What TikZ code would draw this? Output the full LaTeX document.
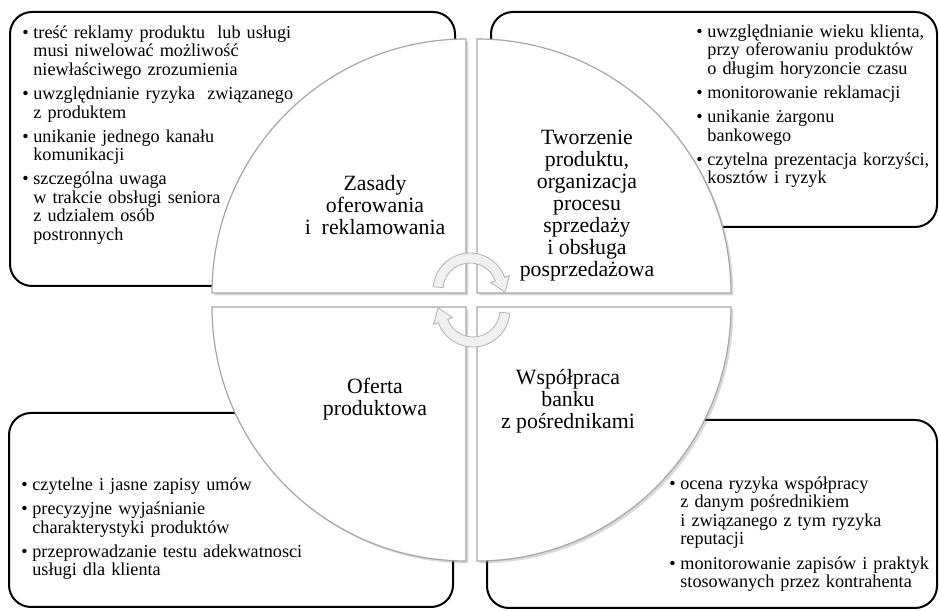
\documentclass[tikz,border=0pt]{standalone}
\usepackage{fontspec}
\setmainfont{Liberation Serif}
\usetikzlibrary{positioning}
\usetikzlibrary{shadows}

\newcommand{\bul}{\par\hangindent=5.5pt\hangafter=1\noindent\makebox[5.5pt][l]{\textbullet}}

\begin{document}
\begin{tikzpicture}
[x=0.5pt, y=0.5pt,
 infobox/.style={draw=black, line width=1pt, rounded corners=11pt},
 quarter/.style={draw=gray!70, fill=white, line width=0.6pt,
   drop shadow={opacity=0.3, shadow xshift=1.2pt, shadow yshift=-1.2pt}},
 turnarrow/.style={draw=gray!60, fill=gray!12, line width=0.4pt},
 listbox/.style={anchor=north west, inner sep=0pt, text width=170pt, align=left,
   font=\fontsize{9.1}{9.25}\selectfont\setlength{\parskip}{2.8pt}},
 areabox/.style={inner sep=0pt, align=center, font=\fontsize{10.9}{11}\selectfont}]

\useasboundingbox (0,0) rectangle (939,611);

% Rounded boxes behind the circle:
\draw[infobox] (10,599)  rectangle (455,325);
\draw[infobox] (491,599) rectangle (937,384);
\draw[infobox] (9,198)   rectangle (453,4);
\draw[infobox] (487,191) rectangle (937,3);

% Quarters of the circle:
\draw[quarter] (466,318) -- ++(-254,0) arc[start angle=180, end angle=90,  radius=254] -- cycle;
\draw[quarter] (477,318) -- ++(0,254)  arc[start angle=90,  end angle=0,   radius=254] -- cycle;
\draw[quarter] (466,304) -- ++(0,-254) arc[start angle=270, end angle=180, radius=254] -- cycle;
\draw[quarter] (477,304) -- ++(254,0)  arc[start angle=0,   end angle=-90, radius=254] -- cycle;

% Circular arrows in the middle:
\foreach \turn in {0,180}
{
  \begin{scope}[rotate around={\turn:(471.5,311)}, shift={(470,321)}]
    \draw[turnarrow] (175:37) arc[start angle=175, end angle=20, radius=37]
      -- (20:42) -- (34.9,-2.2) -- (20:22)
      -- (20:27) arc[start angle=20, end angle=175, radius=27] -- cycle;
  \end{scope}
}

% Names of the four areas:
\node (zasady)    [areabox] at (375,406)   {Zasady\\ oferowania\\ i\ \ reklamowania};
\node (tworzenie) [areabox] at (587,405)   {Tworzenie\\ produktu,\\ organizacja\\ procesu\\ sprzedaży\\ i obsługa\\ posprzedażowa};
\node (oferta)    [areabox] at (375,211.5) {Oferta\\ produktowa};
\node (wspolpraca)[areabox] at (568,209.5) {Współpraca\\ banku\\ z pośrednikami};

% Lists in the boxes:
\node (listZasady) [listbox] at (22,597)
  {\bul treść reklamy produktu\ \ lub usługi\newline musi niwelować możliwość\newline niewłaściwego zrozumienia
   \bul uwzględnianie ryzyka\ \ związanego\newline z produktem
   \bul unikanie jednego kanału\newline komunikacji
   \bul szczególna uwaga\newline w trakcie obsługi seniora\newline z udzialem osób\newline postronnych\par};
\node (listTworzenie) [listbox] at (696,598)
  {\bul uwzględnianie wieku klienta,\newline przy oferowaniu produktów\newline o długim horyzoncie czasu
   \bul monitorowanie reklamacji
   \bul unikanie żargonu\newline bankowego
   \bul czytelna prezentacja korzyści,\newline kosztów i ryzyk\par};
\node (listOferta) [listbox] at (21,145)
  {\bul czytelne i jasne zapisy umów
   \bul precyzyjne wyjaśnianie\newline charakterystyki produktów
   \bul przeprowadzanie testu adekwatnosci\newline usługi dla klienta\par};
\node (listWspolpraca) [listbox] at (669,146)
  {\bul ocena ryzyka współpracy\newline z danym pośrednikiem\newline i związanego z tym ryzyka\newline reputacji
   \bul monitorowanie zapisów i praktyk\newline stosowanych przez kontrahenta\par};

\end{tikzpicture}
\end{document}
